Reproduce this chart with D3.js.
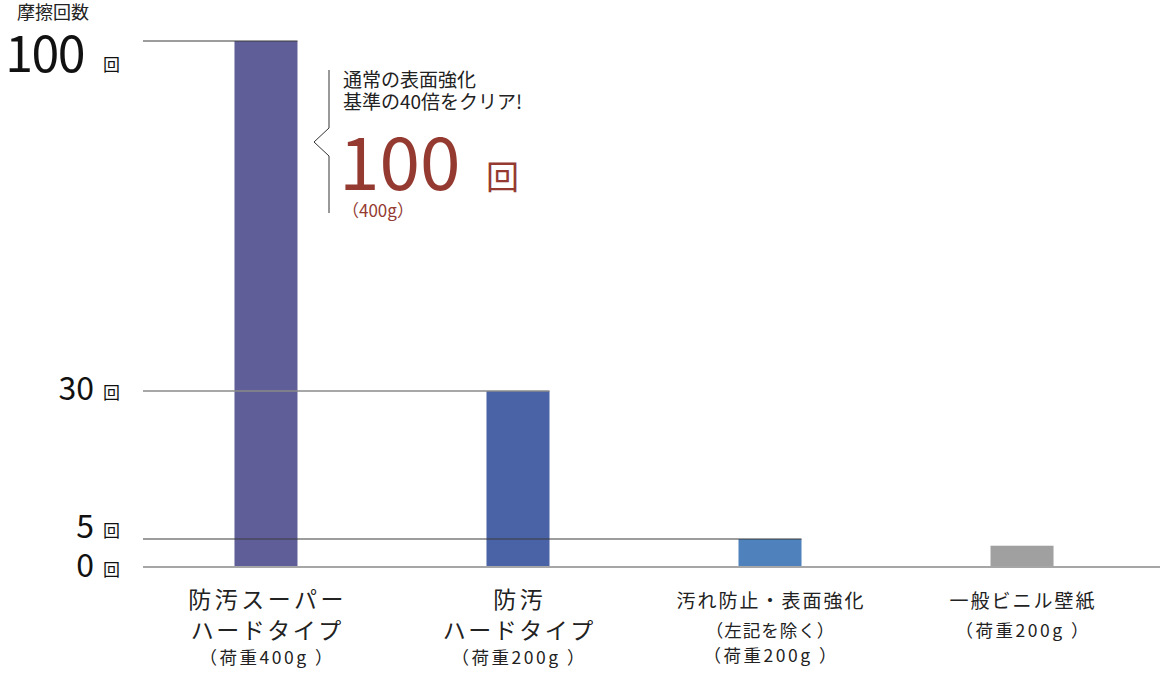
<!DOCTYPE html>
<html>
<head>
<meta charset="utf-8">
<script src="https://cdn.jsdelivr.net/npm/d3@7"></script>
<style>
  body { margin: 0; background: #fff; }
  text { font-family: "Noto Sans CJK JP", "Noto Sans", sans-serif; }
</style>
</head>
<body>
<div id="chart"></div>
<script>
// data
const categories = [
  ["防汚スーパー", "ハードタイプ", "（荷重400g ）"],
  ["防汚", "ハードタイプ", "（荷重200g ）"],
  ["汚れ防止・表面強化", "（左記を除く）", "（荷重200g ）"],
  ["一般ビニル壁紙", "（荷重200g ）"]
];
const values = [100, 30, 5, 3.8];
const colors = ["#5f5e99", "#4a63a6", "#4f81bd", "#a0a0a0"];
const tickValues = [0, 5, 30, 100];
const tickUnit = "回";
const axisTitle = "摩擦回数";
const noteLines = ["通常の表面強化", "基準の40倍をクリア!"];
const noteValue = "100";
const noteWeight = "（400g）";

const width = 1160, height = 676;

const svg = d3.select("#chart")
  .append("svg")
  .attr("width", width)
  .attr("height", height);

// y scale is not uniform in the original, so use a piecewise linear scale
const y = d3.scaleLinear()
  .domain([0, 5, 30, 100])
  .range([567, 539, 391, 41]);

const x = d3.scaleBand()
  .domain(d3.range(categories.length))
  .range([143, 1145])
  .paddingInner(0.75)
  .paddingOuter(0.363);

// bars
svg.append("g").selectAll("rect")
  .data(values)
  .enter().append("rect")
  .attr("x", (d, i) => x(i))
  .attr("y", d => y(d))
  .attr("width", x.bandwidth())
  .attr("height", d => y(0) - y(d))
  .attr("fill", (d, i) => colors[i]);

// grid lines, each stopping at the right edge of the bar that reaches it
const grid = svg.append("g");
tickValues.filter(t => t > 0).forEach(t => {
  const i = values.indexOf(t);
  grid.append("line")
    .attr("x1", 143)
    .attr("x2", i >= 0 ? x(i) + x.bandwidth() : width)
    .attr("y1", y(t))
    .attr("y2", y(t))
    .attr("stroke", t === 30 ? "#8a8a8a" : "#3a3a3a")
    .attr("stroke-width", t === 30 ? 1.5 : 1);
});
grid.append("line")
  .attr("x1", 143)
  .attr("x2", width)
  .attr("y1", y(0))
  .attr("y2", y(0))
  .attr("stroke", "#a6a6a6")
  .attr("stroke-width", 2.2);

// tick labels
const tickStyle = {
  100: { size: 50, dy: 31, end: 84, ls: -1.5 },
  30: { size: 32, dy: 9, end: 94, ls: 0 },
  5: { size: 32, dy: -1, end: 94, ls: 0 },
  0: { size: 32, dy: 10, end: 94, ls: 0 }
};
const ticks = svg.append("g").selectAll("g")
  .data(tickValues)
  .enter().append("g");
ticks.append("text")
  .attr("x", d => tickStyle[d].end)
  .attr("y", d => y(d) + tickStyle[d].dy)
  .attr("text-anchor", "end")
  .attr("font-size", d => tickStyle[d].size)
  .attr("letter-spacing", d => tickStyle[d].ls)
  .attr("fill", "#111")
  .text(d => d);
ticks.append("text")
  .attr("x", 103)
  .attr("y", d => y(d) + tickStyle[d].dy - 1)
  .attr("font-size", 17)
  .attr("fill", "#111")
  .text(tickUnit);

svg.append("text")
  .attr("x", 17)
  .attr("y", 19)
  .attr("font-size", 18)
  .attr("fill", "#222")
  .text(axisTitle);

// category labels
const labels = svg.append("g").selectAll("text")
  .data(categories)
  .enter().append("text")
  .attr("text-anchor", "middle")
  .attr("fill", "#222");
labels.each(function(lines, i) {
  const big = i < 2;
  const t = d3.select(this);
  lines.forEach((line, j) => {
    const last = j === lines.length - 1;
    const weightLine = line.indexOf("荷重") >= 0;
    let size, ls;
    if (big) {
      size = last ? 17.5 : 23;
      ls = last ? 2.5 : (j === 0 ? 3.5 : 2.5);
    } else {
      size = j === 0 ? 19 : 17.5;
      ls = j === 0 ? 2 : (weightLine ? 2.5 : 1);
    }
    t.append("tspan")
      .attr("x", x(i) + x.bandwidth() / 2 + ls / 2)
      .attr("y", big ? [608, 639, 664][j] : [608, 637, 662][j])
      .attr("font-size", size)
      .attr("letter-spacing", ls)
      .text(line);
  });
});

// annotation with brace
const note = svg.append("g");
note.append("path")
  .attr("d", "M329,70 V128 L314,142 L329,156 V213")
  .attr("fill", "none")
  .attr("stroke", "#333")
  .attr("stroke-width", 1);
note.selectAll("text.line")
  .data(noteLines)
  .enter().append("text")
  .attr("class", "line")
  .attr("x", 343)
  .attr("y", (d, i) => 87 + i * 22)
  .attr("font-size", 19)
  .attr("fill", "#222")
  .text(d => d);
note.append("text")
  .attr("x", 339)
  .attr("y", 190)
  .attr("font-size", 73)
  .attr("fill", "#943a31")
  .text(noteValue);
note.append("text")
  .attr("x", 486)
  .attr("y", 189)
  .attr("font-size", 33)
  .attr("fill", "#943a31")
  .text(tickUnit);
note.append("text")
  .attr("x", 342)
  .attr("y", 217)
  .attr("font-size", 17)
  .attr("fill", "#943a31")
  .text(noteWeight);
</script>
</body>
</html>
